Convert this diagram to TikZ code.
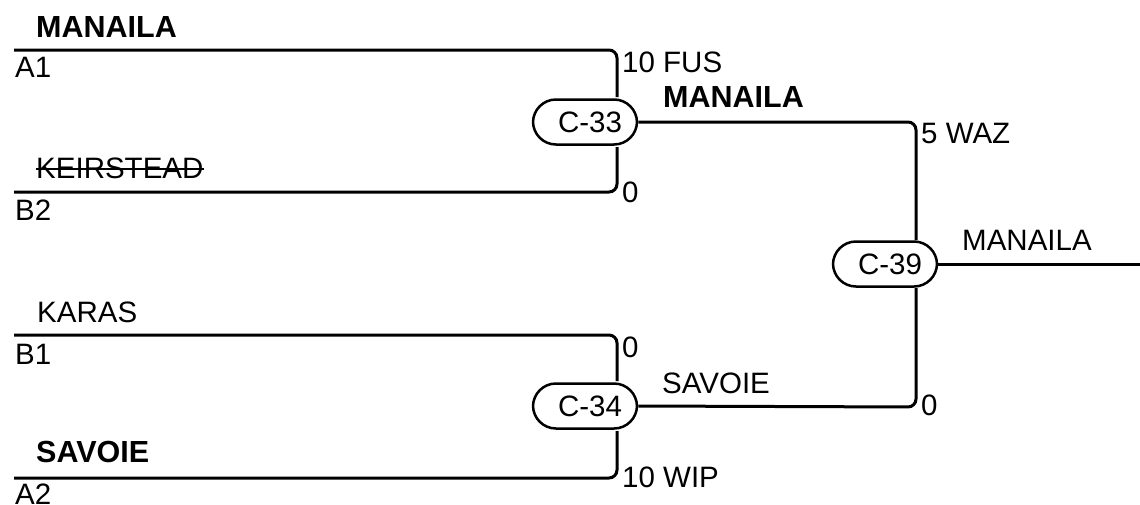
\documentclass[tikz,border=0pt]{standalone}
\usepackage{fontspec}
\setmainfont{Liberation Sans}
\begin{document}
\begin{tikzpicture}[x=1pt,y=-1pt,
  txt/.style={anchor=base west,inner sep=0pt,font=\fontsize{29.5}{34}\selectfont},
  bold/.style={txt,font=\fontsize{30.5}{34}\selectfont\bfseries},
  match/.style={draw,line width=2.5pt,rounded corners=23pt,minimum width=104pt,minimum height=45pt,inner sep=0pt,fill=white,font=\fontsize{29.5}{34}\selectfont},
  wire/.style={line width=3pt,rounded corners=8pt},
  strike/.style={line width=2pt}]
\useasboundingbox (0,0) rectangle (1140,504);
% match nodes
\node[match] (c33) at (585,122) {\hspace{10pt}C-33};
\node[match] (c34) at (585,406) {\hspace{10pt}C-34};
\node[match] (c39) at (885,264) {\hspace{10pt}C-39};
% line start coordinates
\coordinate (a1) at (14,50);
\coordinate (b2) at (14,192);
\coordinate (b1) at (14,335);
\coordinate (a2) at (14,478);
\coordinate (out) at (1140,264);
% wires
\draw[wire] (a1) -- (617,50) -- (617,97);
\draw[wire] (b2) -- (617,192) -- (617,147);
\draw[wire] (b1) -- (617,335) -- (617,381);
\draw[wire] (a2) -- (617,478) -- (617,431);
\draw[wire] (c33.east) -- (916,122) -- (916,240);
\draw[wire] (c34.east) -- (916,407) -- (916,288);
\draw[wire] (c39.east) -- (out);
% names
\node[bold] (n1) at (36,37) {MANAILA};
\node[txt] (s1) at (15,77) {A1};
\node[txt] (n2) at (36,178) {KEIRSTEAD};
\draw[strike] ([yshift=9pt]n2.base west) -- ([yshift=9pt]n2.base east);
\node[txt] (s2) at (15,220) {B2};
\node[txt] (n3) at (37,322) {KARAS};
\node[txt] (s3) at (15,364) {B1};
\node[bold] (n4) at (36,462) {SAVOIE};
\node[txt] (s4) at (15,504) {A2};
% scores
\node[txt] (sc1) at (622,72) {10 FUS};
\node[txt] (sc2) at (622,202) {0};
\node[txt] (sc3) at (622,357) {0};
\node[txt] (sc4) at (622,487) {10 WIP};
\node[txt] (sc5) at (921,143) {5 WAZ};
\node[txt] (sc6) at (921,415) {0};
% winners
\node[bold] (w1) at (663,107) {MANAILA};
\node[txt] (w2) at (662,393) {SAVOIE};
\node[txt] (w3) at (962,250) {MANAILA};
\end{tikzpicture}
\end{document}
